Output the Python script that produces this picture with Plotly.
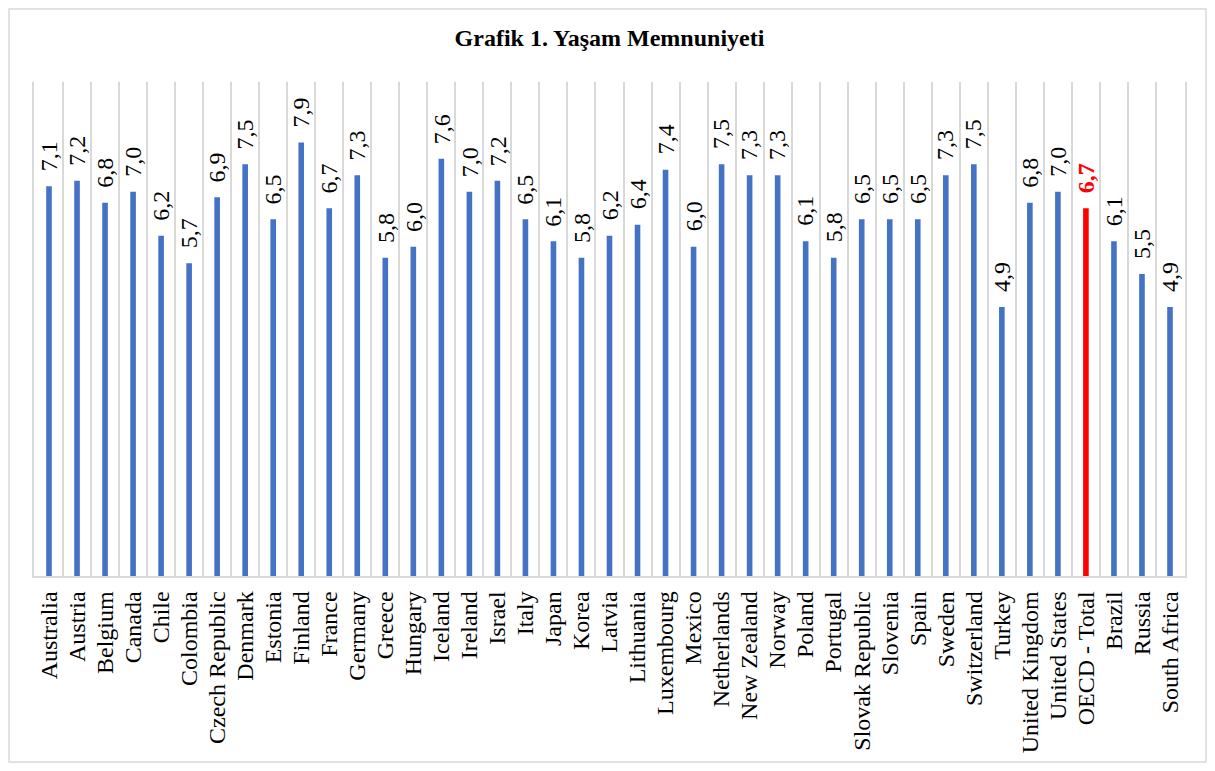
"""Grafik 1. Yasam Memnuniyeti - OECD yasam memnuniyeti cubuk grafigi."""
import plotly.graph_objects as go

COUNTRIES = [
    "Australia", "Austria", "Belgium", "Canada", "Chile", "Colombia",
    "Czech Republic", "Denmark", "Estonia", "Finland", "France", "Germany",
    "Greece", "Hungary", "Iceland", "Ireland", "Israel", "Italy", "Japan",
    "Korea", "Latvia", "Lithuania", "Luxembourg", "Mexico", "Netherlands",
    "New Zealand", "Norway", "Poland", "Portugal", "Slovak Republic",
    "Slovenia", "Spain", "Sweden", "Switzerland", "Turkey", "United Kingdom",
    "United States", "OECD - Total", "Brazil", "Russia", "South Africa",
]
VALUES = [
    7.1, 7.2, 6.8, 7.0, 6.2, 5.7,
    6.9, 7.5, 6.5, 7.9, 6.7, 7.3,
    5.8, 6.0, 7.6, 7.0, 7.2, 6.5, 6.1,
    5.8, 6.2, 6.4, 7.4, 6.0, 7.5,
    7.3, 7.3, 6.1, 5.8, 6.5,
    6.5, 6.5, 7.3, 7.5, 4.9, 6.8,
    7.0, 6.7, 6.1, 5.5, 4.9,
]
HIGHLIGHT = "OECD - Total"

FONT = "Liberation Serif"
BLUE = "#4472C4"
RED = "#FF0000"
GRID = "#D9D9D9"

# sayfa govdesi 8px kenar boslugu birakiyor
W, H = 1199, 755
L, R, T, B = 26, 22, 74, 187
PW, PH = W - L - R, H - T - B

colors = [RED if c == HIGHLIGHT else BLUE for c in COUNTRIES]

fig = go.Figure(go.Bar(
    x=COUNTRIES,
    y=VALUES,
    marker=dict(color=colors, line=dict(width=0)),
    hoverinfo="x+y",
))

# deger etiketleri (virgullu ondalik)
for c, v in zip(COUNTRIES, VALUES):
    s = f"{v:.1f}".replace(".", ",")
    hl = c == HIGHLIGHT
    fig.add_annotation(
        x=c, y=v,
        text=f"<b>{s}</b>" if hl else s,
        textangle=-90,
        showarrow=False,
        xanchor="center", yanchor="bottom",
        yshift=13,
        font=dict(family=FONT, size=24, color=RED if hl else "black"),
    )

fig.update_layout(
    width=W,
    height=H,
    paper_bgcolor="white",
    plot_bgcolor="white",
    font=dict(family=FONT, color="black"),
    title=dict(
        text="<b>Grafik 1. Yaşam Memnuniyeti</b>",
        font=dict(family=FONT, size=24, color="black"),
        x=0.5, xref="paper", xanchor="center",
        y=1 - 30 / H, yref="container", yanchor="middle",
    ),
    margin=dict(l=L, r=R, t=T, b=B, autoexpand=False),
    bargap=0.8,
    showlegend=False,
)
fig.update_xaxes(
    type="category",
    tickmode="array",
    tickvals=COUNTRIES,
    ticktext=COUNTRIES,
    tickson="boundaries",
    showgrid=True,
    gridcolor=GRID,
    gridwidth=1.5,
    showline=True,
    linecolor=GRID,
    linewidth=1.5,
    ticks="",
    tickangle=-90,
    tickfont=dict(family=FONT, size=24, color="black"),
    ticklabelstandoff=4,
)
fig.update_yaxes(
    range=[0, 9],
    showgrid=False,
    zeroline=False,
    showticklabels=False,
    ticks="",
    showline=True,
    mirror=True,
    linecolor=GRID,
    linewidth=1.5,
)

# cerceve
fig.add_shape(
    type="rect", xref="paper", yref="paper",
    x0=-(L - 1) / PW, x1=1 + (R - 1) / PW,
    y0=-(B - 1) / PH, y1=1 + (T - 1) / PH,
    line=dict(color=GRID, width=1.5),
    layer="below",
)

fig.write_html("out.html")
